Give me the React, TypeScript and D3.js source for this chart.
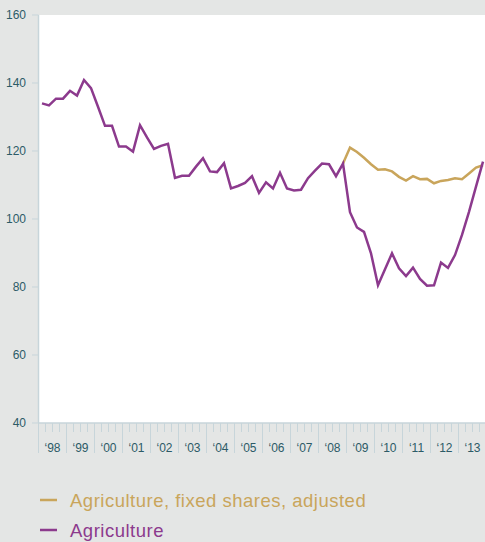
import React from 'react';
import * as d3 from 'd3';

// quarterly index, 1998 Q1 .. 2013 Q4
const agriculture = [
  134.0, 133.4, 135.4, 135.4, 137.7, 136.3, 140.9, 138.5,
  133.0, 127.4, 127.4, 121.3, 121.3, 119.8, 127.6, 124.0,
  120.6, 121.5, 122.1, 112.1, 112.7, 112.7, 115.4, 117.9,
  114.0, 113.8, 116.4, 109.0, 109.7, 110.6, 112.6, 107.7,
  110.8, 109.0, 113.6, 109.0, 108.4, 108.6, 112.0, 114.2,
  116.3, 116.1, 112.6, 116.3, 102.0, 97.5, 96.2, 89.9,
  80.5, 85.2, 89.9, 85.5, 83.2, 85.7, 82.4, 80.4,
  80.5, 87.2, 85.6, 89.4, 95.3, 102.1, 109.5, 116.9,
];

// starts 2008 Q4
const fixedSharesStart = 43;
const fixedShares = [
  116.3, 121.0, 119.7, 118.0, 116.1, 114.5, 114.6, 114.0,
  112.4, 111.3, 112.6, 111.7, 111.8, 110.5, 111.2, 111.5,
  112.0, 111.7, 113.4, 115.1, 115.8,
];

const years = d3.range(1998, 2014);
const yTicks = [40, 60, 80, 100, 120, 140, 160];

const legendItems = [
  { label: 'Agriculture, fixed shares, adjusted', color: '#c9a55b' },
  { label: 'Agriculture', color: '#8c3a8d' },
];

const W = 485;
const H = 542;
const axisColor = '#c7d5da';
const textColor = '#2c5b67';
const font = '"Liberation Sans", Arial, sans-serif';

const App: React.FC = () => {
  const x = d3.scaleLinear().domain([1998, 2014]).range([38.5, 486.5]);
  const y = d3.scaleLinear().domain([40, 160]).range([423, 15]);

  const qx = (i: number) => x(1998 + (i + 0.5) / 4);

  const line = d3.line<[number, number]>()
    .x(d => qx(d[0]))
    .y(d => y(d[1]));

  const aggPts: [number, number][] = agriculture.map((v, i) => [i, v]);
  const fixPts: [number, number][] = fixedShares.map((v, i) => [i + fixedSharesStart, v]);

  const quarterTicks = d3.range(1998, 2014.01, 0.25);

  return (
    <div style={{ position: 'absolute', left: 0, top: 0, width: W, height: H }}>
      <svg width={W} height={H} style={{ display: 'block', fontFamily: font }}>
        <rect x={0} y={0} width={W} height={H} fill="#e4e6e5" />
        <rect x={x(1998)} y={y(160)} width={W - x(1998)} height={y(40) - y(160)} fill="#ffffff" />

        {/* y axis */}
        <line x1={x(1998)} x2={x(1998)} y1={y(160)} y2={y(40)} stroke={axisColor} strokeWidth={1.5} />
        {yTicks.map(t => (
          <g key={t}>
            <line x1={32} x2={x(1998)} y1={y(t)} y2={y(t)} stroke={axisColor} strokeWidth={1} />
            <text x={26} y={y(t)} dy="0.36em" textAnchor="end" fontSize={12} fill={textColor}>
              {t}
            </text>
          </g>
        ))}

        {/* x axis */}
        <line x1={x(1998)} x2={W} y1={y(40)} y2={y(40)} stroke={axisColor} strokeWidth={1.5} />
        {quarterTicks.map((q, i) => {
          const major = i % 4 === 0;
          return (
            <line
              key={q}
              x1={x(q)}
              x2={x(q)}
              y1={y(40)}
              y2={y(40) + (major ? 30 : 9)}
              stroke={axisColor}
              strokeWidth={1}
            />
          );
        })}
        {years.map(yr => (
          <text key={yr} x={x(yr + 0.5)} y={452} textAnchor="middle" fontSize={12} fill={textColor}>
            {'\u2018' + String(yr).slice(2)}
          </text>
        ))}

        {/* series */}
        <path d={line(fixPts) || ''} fill="none" stroke={legendItems[0].color} strokeWidth={2.5} />
        <path d={line(aggPts) || ''} fill="none" stroke={legendItems[1].color} strokeWidth={2.5} />

        {/* legend */}
        {legendItems.map((it, i) => (
          <g key={it.label} transform={`translate(0,${500 + i * 30})`}>
            <line x1={40} x2={57} y1={0} y2={0} stroke={it.color} strokeWidth={2.5} />
            <text x={70} y={6.5} fontSize={18.5} letterSpacing={0.5} fill={it.color}>
              {it.label}
            </text>
          </g>
        ))}
      </svg>
    </div>
  );
};

export default App;
